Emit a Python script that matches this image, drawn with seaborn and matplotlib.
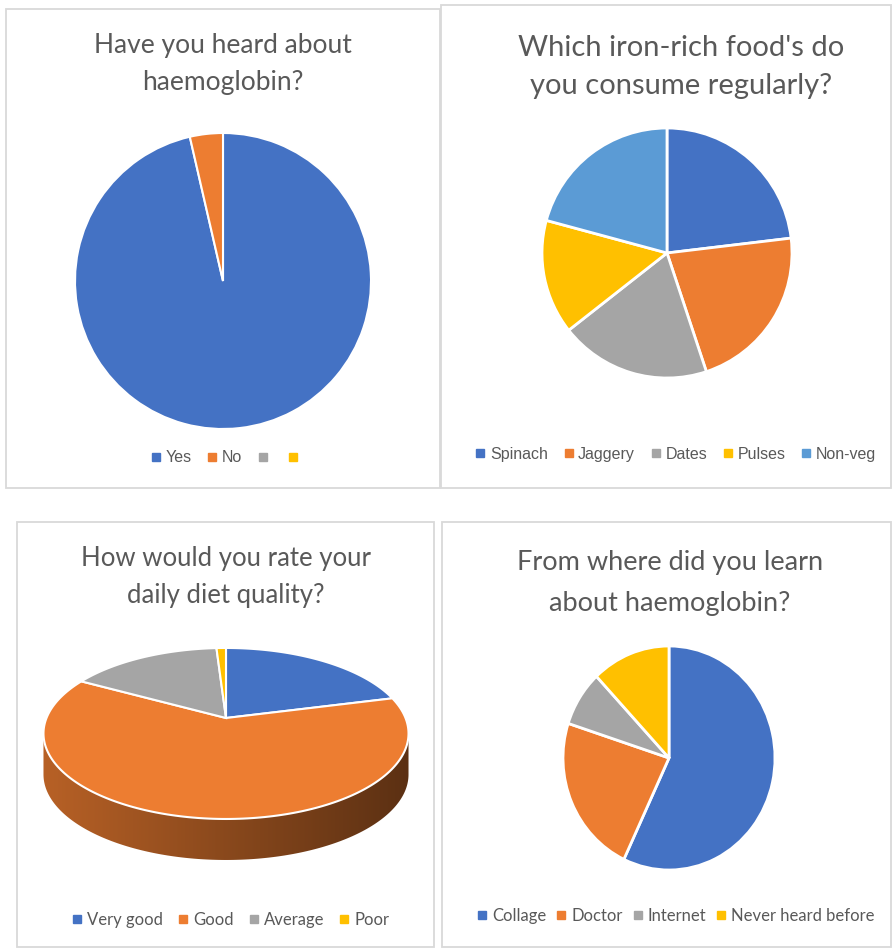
import numpy as np
import matplotlib
matplotlib.use("Agg")
import matplotlib.pyplot as plt
from matplotlib.lines import Line2D
from matplotlib.patches import Rectangle, Polygon
import seaborn as sns

# Survey answers (percent of respondents)
hear_labels = ["Yes", "No", "", ""]
hear_values = [96.4, 3.6, 0, 0]

food_labels = ["Spinach", "Jaggery", "Dates", "Pulses", "Non-veg"]
food_values = [23.1, 21.8, 19.5, 14.8, 20.8]

diet_labels = ["Very good", "Good", "Average", "Poor"]
diet_values = [21, 62, 16, 1]

source_labels = ["Collage", "Doctor", "Internet", "Never heard before"]
source_values = [57, 23, 8, 12]

sns.set_theme(style="white")
palette = sns.color_palette(["#4472C4", "#ED7D31", "#A5A5A5", "#FFC000", "#5B9BD5"])
TEXT = "#595959"
TITLE_FONT = ["Lato", "DejaVu Sans"]
LEGEND_FONT = ["Liberation Sans", "DejaVu Sans"]
NARROW_FONT = ["Lato", "DejaVu Sans"]

W, H = 892, 948
fig = plt.figure(figsize=(W / 100, H / 100), dpi=100)
fig.patch.set_facecolor("white")


def panel(x0, y0, x1, y1):
    fig.add_artist(Rectangle((x0 / W, 1 - y1 / H), (x1 - x0) / W, (y1 - y0) / H,
                             transform=fig.transFigure, fill=False,
                             ec="#d9d9d9", lw=1.3))


def title(cx, cy, txt, size, spacing):
    fig.text(cx / W, 1 - cy / H, txt, ha="center", va="center", fontsize=size,
             color=TEXT, family=TITLE_FONT, fontweight="normal",
             linespacing=spacing)


def pie_axes(cx, cy, rx, ry, lo=-1.2, hi=1.2):
    left, right = cx - 1.2 * rx, cx + 1.2 * rx
    top, bottom = cy - hi * ry, cy - lo * ry
    ax = fig.add_axes([left / W, 1 - bottom / H, (right - left) / W, (bottom - top) / H])
    return ax, (lo, hi)


def draw_pie(ax, values, colors, lw=1.5):
    vals = [v for v in values if v > 0]
    wedges, _ = ax.pie(vals, colors=colors[:len(vals)], startangle=90,
                       counterclock=False,
                       wedgeprops=dict(edgecolor="white", linewidth=lw))
    return wedges


def finish(ax, lims):
    ax.set_aspect("auto")
    ax.set_xlim(-1.2, 1.2)
    ax.set_ylim(*lims)
    ax.axis("off")


def legend(cx, cy, labels, colors, size, font, colspace=0.9):
    handles = [Line2D([], [], ls="none", marker="s", markersize=5.5,
                      markerfacecolor=c, markeredgecolor=c) for c in colors]
    fig.legend(handles, labels, loc="center", bbox_to_anchor=(cx / W, 1 - cy / H),
               ncol=len(labels), frameon=False, handlelength=0.8,
               handletextpad=0.2, columnspacing=colspace,
               prop=dict(family=font, size=size), labelcolor=TEXT)


# Panel frames
panel(6, 9, 440, 488)
panel(441, 5, 891, 488)
panel(17, 522, 434, 947)
panel(442, 522, 891, 947)

# 1) Heard about haemoglobin
title(223, 64, "Have you heard about\nhaemoglobin?", 19, 1.62)
ax, lims = pie_axes(223, 281, 148, 148)
draw_pie(ax, hear_values, palette)
finish(ax, lims)
legend(226, 458, hear_labels, palette[:4], 11.5, LEGEND_FONT)

# 2) Iron-rich foods
title(681, 67, "Which iron-rich food's do\nyou consume regularly?", 21, 1.59)
ax, lims = pie_axes(667, 253, 125, 125)
draw_pie(ax, food_values, palette, lw=2)
finish(ax, lims)
legend(675, 454, food_labels, palette[:5], 11.5, LEGEND_FONT)

# 3) Diet quality, drawn as a tilted pie in perspective with a shaded rim
title(226, 577, "How would you rate your\ndaily diet quality?", 18.5, 1.62)
cx, cy, rx, ry, depth, p = 226, 718, 179.5, 82.7, 41, 0.181
d = depth / ry


def project(u, v):
    s = 1 + p * v
    return u / s, v / s


ax, lims = pie_axes(cx, cy, rx, ry, lo=-2.0, hi=1.2)
wedges = draw_pie(ax, diet_values, palette)
edge = np.degrees(np.arcsin(p))
for w in wedges:
    w.set_visible(False)
    color = np.array(w.get_facecolor()[:3])
    t = np.radians(np.linspace(w.theta1, w.theta2, 200))
    px, py = project(np.r_[0, np.cos(t)] * w.r, np.r_[0, np.sin(t)] * w.r)
    ax.add_patch(Polygon(np.c_[px, py], closed=True, fc=color, ec="white",
                         lw=1.5, zorder=3))
    # visible front rim of this slice
    for k in range(-2, 2):
        lo_t = max(w.theta1, 180 + edge + 360 * k)
        hi_t = min(w.theta2, 360 - edge + 360 * k)
        if hi_t <= lo_t:
            continue
        t = np.radians(np.linspace(lo_t, hi_t, 200))
        tx, ty = project(np.cos(t), np.sin(t))
        pts = np.r_[np.c_[tx, ty], np.c_[tx[::-1], ty[::-1] - d]]
        rim = Polygon(pts, closed=True, fc="none", ec="none")
        ax.add_patch(rim)
        shade = np.linspace(0.78, 0.38, 256)
        grad = (shade[:, None] * color[None, :])[None, :, :]
        im = ax.imshow(grad, extent=(-1.05, 1.05, -1.5 - d, 1), aspect="auto",
                       interpolation="bilinear", zorder=1)
        im.set_clip_path(rim)
finish(ax, lims)
legend(230, 920, diet_labels, palette[:4], 12, NARROW_FONT, colspace=0.8)

# 4) Where they learned about haemoglobin
title(670, 583, "From where did you learn\nabout haemoglobin?", 19.5, 1.8)
ax, lims = pie_axes(669, 758, 106, 112)
draw_pie(ax, source_values, palette, lw=2)
finish(ax, lims)
legend(675, 916, source_labels, palette[:4], 12, NARROW_FONT, colspace=0.5)

fig.savefig("out.png", dpi=100, facecolor="white")
